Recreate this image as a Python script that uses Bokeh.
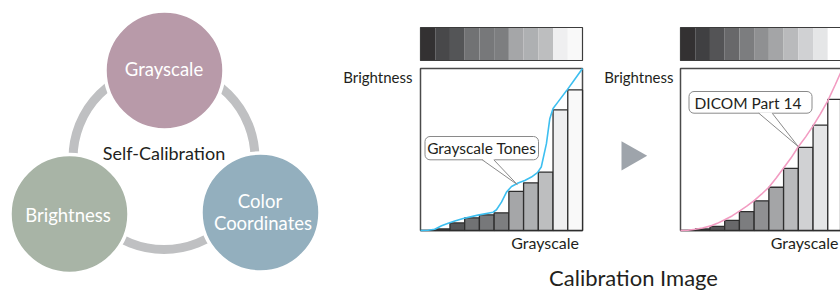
from bokeh.plotting import figure
from bokeh.models import Range1d
from bokeh.core.properties import value
from bokeh.embed import file_html
from bokeh.resources import INLINE

# ---------------- data ----------------
cycle_labels = ["Grayscale", "Brightness", "Color", "Coordinates"]
cycle_colors = ["#b89aa9", "#a8b4a6", "#93afbe"]
center_label = "Self-Calibration"

slots = list(range(11))
before_levels = [0, 1.0, 4.7, 7.8, 9.7, 10.9, 24.1, 29.4, 36.0, 74.5, 86.8]
after_levels = [0, 1.0, 2.5, 6.2, 11.7, 18.3, 26.7, 38.4, 51.3, 65.0, 81.0]
before_colors = ["#333132", "#48484a", "#545557", "#717274", "#77787a", "#7d7e80",
                 "#a5a6a8", "#aeb0b2", "#bdbebf", "#efeff0", "#f9f9f9"]
after_colors = ["#333132", "#404042", "#545456", "#68686a", "#7c7d7f", "#8f9092",
                "#a4a5a7", "#b9babc", "#d0d1d3", "#e5e6e7", "#ffffff"]
before_curve_x = [0, 0.52, 0.97, 1.43, 1.88, 2.33, 2.9, 3.9, 4.93, 5.16, 5.5, 5.84, 6.18,
                  6.63, 7.08, 7.53, 7.94, 8.2, 8.55, 8.78, 9.0, 9.34, 9.91, 10.43, 11]
before_curve_y = [0, 0.2, 0.8, 2.9, 4.5, 5.8, 7.4, 9.5, 11.3, 12.8, 17.5, 23.7, 27.2,
                  29.3, 30.9, 33.0, 35.7, 39.2, 53.6, 69.0, 75.3, 79.4, 86.2, 92.8, 100]
after_curve_x = [0, 0.5, 1, 1.5, 2, 2.5, 3, 3.5, 4, 4.5, 5, 5.5, 6, 6.5, 7, 7.5, 8, 8.5,
                 9, 9.5, 10, 10.5, 11]
after_curve_y = [0, 0.2, 0.8, 1.5, 2.7, 4.4, 6.6, 9.0, 12.0, 15.0, 18.5, 22.4, 26.7, 32.4,
                 38.6, 44.7, 51.7, 57.8, 64.6, 72.0, 80.0, 89.8, 100]
axis_y_label = "Brightness"
axis_x_label = "Grayscale"
before_callout = "Grayscale Tones"
after_callout = "DICOM Part 14"
bottom_title = "Calibration Image"

# ---------------- layout ----------------
W, H = 840, 291
X0, Y0 = 0, 0
FONT = value("Lato")
TXT = "#231f20"

p = figure(width=W, height=H, x_range=Range1d(X0, X0 + W), y_range=Range1d(Y0 + H, Y0),
           output_backend="svg", toolbar_location=None, x_axis_type=None, y_axis_type=None,
           min_border=0)
p.grid.visible = False
p.outline_line_color = None
p.background_fill_color = "white"
p.border_fill_color = "white"


def label(xs, baselines, texts, size, color=TXT, align="center"):
    # place by visual baseline; glyph is anchored at its middle
    ys = [b - 0.387 * size for b in baselines]
    p.text(x=xs, y=ys, text=texts, text_color=color, text_font=FONT,
           text_font_size=f"{size}px", text_align=align, text_baseline="middle")


# ---- self-calibration cycle ----
p.circle(x=163.5, y=158, radius=91, fill_color=None, line_color="#bfc0c2", line_width=9)
circ_x = [164, 69, 260]
circ_y = [70, 213.5, 212]
p.circle(x=circ_x, y=circ_y, radius=59.5, fill_color=cycle_colors, line_color="white",
         line_width=3.5)
label([163.5, 67.5, 259.5, 262.5], [76, 221.5, 207.5, 229.5], cycle_labels, 18.5,
      color="white")
label([163.5], [159.5], [center_label], 18)

# ---- charts ----
SW = 162 / 11.0
PH = 162 / 100.0


def chart(name, left_px, levels, colors, cx, cy, curve_color):
    xs = -(left_px - X0) / SW
    p.extra_x_ranges[name + "x"] = Range1d(xs, xs + W / SW)
    ys = -((Y0 + H) - 230) / PH
    p.extra_y_ranges[name + "y"] = Range1d(ys, ys + H / PH)
    xr, yr = name + "x", name + "y"
    # grayscale strip
    p.quad(left=slots, right=[s + 1 for s in slots], top=27, bottom=60, fill_color=colors,
           line_color=None, x_range_name=xr)
    p.quad(left=0, right=11, top=27, bottom=60, fill_color=None, line_color="#3c3c3c",
           line_width=1.2, x_range_name=xr)
    # frame
    p.quad(left=0, right=11, bottom=0, top=100, fill_color="white", line_color="#4a4a4a",
           line_width=1.5, x_range_name=xr, y_range_name=yr)
    # bars
    p.vbar(x=[s + 0.5 for s in slots], width=1, top=levels, bottom=0, fill_color=colors,
           line_color="#2e2e2e", line_width=1.3, x_range_name=xr, y_range_name=yr)
    # curve
    p.line(cx, cy, line_color=curve_color, line_width=1.6, x_range_name=xr, y_range_name=yr)


chart("a", 420, before_levels, before_colors, before_curve_x, before_curve_y, "#3dbff0")
chart("b", 680, after_levels, after_colors, after_curve_x, after_curve_y, "#f29cc2")

# axis labels
label([412, 673], [82, 82], [axis_y_label] * 2, 15, align="right")
label([578.5, 838], [248, 248], [axis_x_label] * 2, 16, align="right")


def callout(l, r, t, b, base1, base2, tip, text, tx, ty):
    p.quad(left=l, right=r, top=t, bottom=b, fill_color="white", line_color="#8a8a8a",
           line_width=1, border_radius=5)
    p.patch([base1, base2, tip[0]], [b - 0.8, b - 0.8, tip[1]], fill_color="white",
            line_color=None)
    p.multi_line([[base1, tip[0]], [base2, tip[0]]], [[b, tip[1]], [b, tip[1]]],
                 line_color="#8a8a8a", line_width=1)
    label([tx], [ty], [text], 15.5)


callout(424.5, 538, 136, 159.3, 481.7, 493.3, (516.7, 184), before_callout, 481.3, 153.3)
callout(688.5, 811.5, 91, 112.7, 758.3, 771.7, (797.7, 146), after_callout, 747.5, 108.3)

# arrow between charts
p.patch([621, 621, 646.7], [140.7, 170, 155.3], fill_color="#9ea4ab", line_color=None)

# bottom title
label([633], [286], [bottom_title], 22)

open("out.html", "w").write(file_html(p, INLINE))
